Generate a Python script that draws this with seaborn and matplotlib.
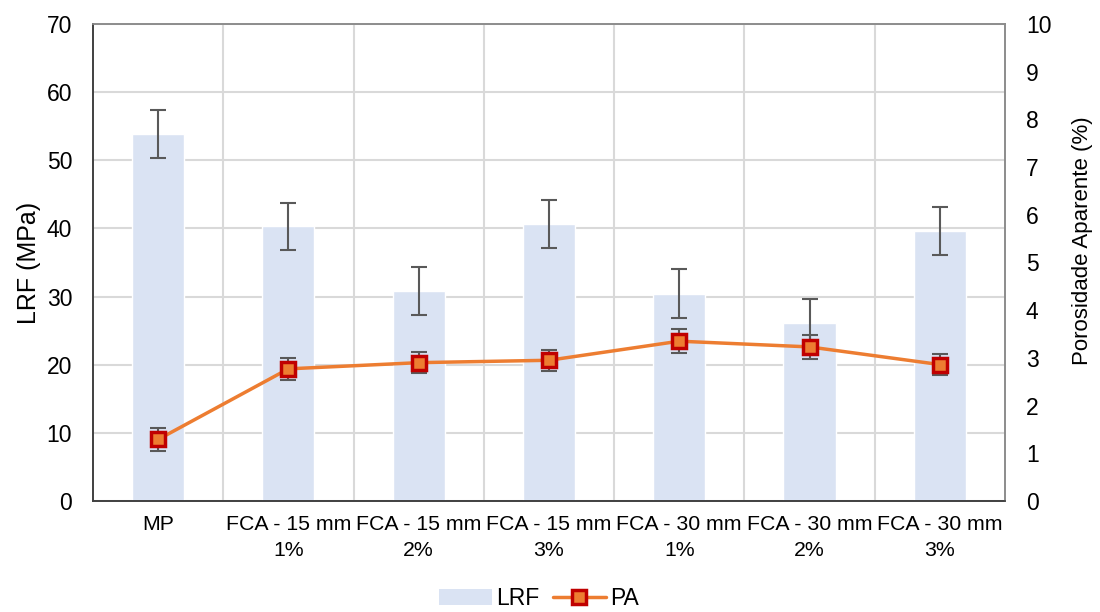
import numpy as np
import pandas as pd
import matplotlib
matplotlib.use("Agg")
import matplotlib.pyplot as plt
import seaborn as sb
from matplotlib.patches import Patch
from matplotlib.lines import Line2D

# data
categories = ["MP", "FCA - 15 mm\n1%", "FCA - 15 mm\n2%", "FCA - 15 mm\n3%",
              "FCA - 30 mm\n1%", "FCA - 30 mm\n2%", "FCA - 30 mm\n3%"]
lrf = [53.9, 40.3, 30.8, 40.6, 30.4, 26.1, 39.6]
lrf_err = [3.5, 3.5, 3.5, 3.5, 3.6, 3.5, 3.5]
pa = [1.29, 2.77, 2.90, 2.95, 3.35, 3.23, 2.86]
pa_err = [0.25, 0.23, 0.22, 0.22, 0.25, 0.25, 0.22]

sb.set_style("white")
plt.rcParams["font.family"] = ["Liberation Sans", "DejaVu Sans"]
plt.rcParams["text.color"] = "black"
plt.rcParams["axes.labelcolor"] = "black"
plt.rcParams["xtick.color"] = "black"
plt.rcParams["ytick.color"] = "black"

bar_color = "#dae3f3"
line_color = "#ed7d31"
edge_red = "#c00000"
err_color = "#595959"
grid_color = "#d9d9d9"

df = pd.DataFrame({"cat": categories, "LRF": lrf})
pos = np.arange(len(categories))

fig = plt.figure(figsize=(11, 6.12), dpi=100)
ax = fig.add_axes([0.0845, 0.1814, 0.8291, 0.7794])

sb.barplot(data=df, x="cat", y="LRF", color=bar_color, saturation=1,
           width=0.4, ax=ax, zorder=2)
ax.errorbar(pos, lrf, yerr=lrf_err, fmt="none", ecolor=err_color,
            elinewidth=1.5, capsize=6, capthick=1.5, zorder=3)

ax.set_xlim(-0.5, len(categories) - 0.5)
ax.set_ylim(0, 70)
ax.set_yticks(range(0, 71, 10))
ax.set_xticks(pos)
ax.set_xticklabels(categories, fontsize=15.3, linespacing=1.45)
ax.set_xticks(pos[:-1] + 0.5, minor=True)
ax.tick_params(axis="y", labelsize=16.5, length=0, pad=15)
ax.tick_params(axis="x", which="both", length=0, pad=10)
ax.set_xlabel("")
ax.set_ylabel("LRF (MPa)", fontsize=18, labelpad=4)
ax.grid(axis="y", color=grid_color, linewidth=1.5, zorder=0)
ax.grid(axis="x", which="minor", color=grid_color, linewidth=1.5, zorder=0)
ax.set_axisbelow(True)

ax2 = ax.twinx()
sb.lineplot(x=pos, y=pa, ax=ax2, color=line_color, linewidth=2.5,
            marker="s", markersize=10, markerfacecolor=line_color,
            markeredgecolor=edge_red, markeredgewidth=2.5, zorder=5)
ax2.errorbar(pos, pa, yerr=pa_err, fmt="none", ecolor=err_color,
             elinewidth=1.5, capsize=6, capthick=1.5, zorder=4)
ax2.set_ylim(0, 10)
ax2.set_yticks(range(0, 11))
ax2.tick_params(axis="y", labelsize=16.5, length=0, pad=15)
ax2.set_ylabel("Porosidade Aparente (%)", fontsize=16)
ax2.yaxis.set_label_coords(1.073, 0.545)
ax2.grid(False)

for a in (ax, ax2):
    for s in a.spines.values():
        s.set_color("#8c8c8c")
        s.set_linewidth(1.2)
    a.spines["left"].set_color("#404040")
    a.spines["bottom"].set_color("#404040")

handles = [Patch(facecolor=bar_color, edgecolor="none", label="LRF"),
           Line2D([0], [0], color=line_color, linewidth=2.5, marker="s",
                  markersize=10, markerfacecolor=line_color,
                  markeredgecolor=edge_red, markeredgewidth=2.5, label="PA")]
fig.legend(handles=handles, loc="lower center", bbox_to_anchor=(0.49, -0.03),
           ncol=2, frameon=False, fontsize=16.5, handlelength=2.3,
           columnspacing=0.6, handletextpad=0.2)

fig.savefig("out.png", dpi=100)
